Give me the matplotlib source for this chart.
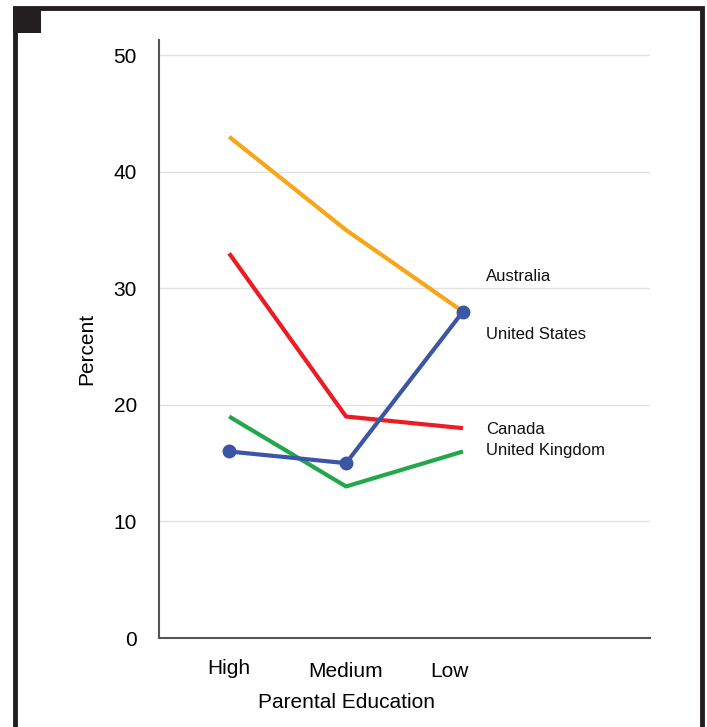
import matplotlib
matplotlib.use("Agg")
import matplotlib.pyplot as plt
import matplotlib.transforms as mtransforms
from matplotlib.patches import Rectangle

plt.rcParams['font.family'] = ['Liberation Sans', 'DejaVu Sans']

categories = ["High", "Medium", "Low"]
australia = [43, 35, 28]
canada = [33, 19, 18]
united_kingdom = [19, 13, 16]
united_states = [16, 15, 28]
yticks = [0, 10, 20, 30, 40, 50]

series = [
    ("Australia", australia, "#F9A51A", 31.0, False),
    ("Canada", canada, "#ED1C24", 17.9, False),
    ("United Kingdom", united_kingdom, "#22A84A", 16.1, False),
    ("United States", united_states, "#3A56A5", 26.0, True),
]

fig = plt.figure(figsize=(7.07, 7.27), dpi=100)
W, H = 707, 727
ax = fig.add_axes([159 / W, 1 - 638 / H, (650 - 159) / W, (638 - 40) / H])

x = list(range(len(categories)))
for name, vals, color, ylab, marker in series:
    ax.plot(x, vals, color=color, lw=3, solid_capstyle='butt',
            marker='o' if marker else None, markersize=9, zorder=3)
    ax.text(2.2, ylab, name, fontsize=12, va='center', ha='left', color='#111111')

ax.set_xlim(-0.6, 3.6)
ax.set_ylim(0, 51.3)
ax.set_yticks(yticks)
ax.set_yticklabels([str(v) for v in yticks], fontsize=15)
ax.set_xticks(x)
ax.set_xticklabels(categories, fontsize=15)
ax.tick_params(axis='both', length=0)
ax.tick_params(axis='x', pad=16.5)
ax.tick_params(axis='y', pad=16)
# small offsets of the category labels as in the reference
offsets = [(0, 2), (0, -1), (-14, -1)]
for lab, (dx, dy) in zip(ax.get_xticklabels(), offsets):
    lab.set_transform(lab.get_transform() +
                      mtransforms.ScaledTranslation(dx / 100, dy / 100, fig.dpi_scale_trans))
ax.yaxis.grid(True, color='#E2E2E2', lw=1)
ax.set_axisbelow(True)
for s in ['top', 'right']:
    ax.spines[s].set_visible(False)
for s in ['left', 'bottom']:
    ax.spines[s].set_color('#555555')
    ax.spines[s].set_linewidth(1.5)
ax.set_ylabel("Percent", fontsize=15)
ax.yaxis.set_label_coords(-(159 - 96) / 491, 0.483)
ax.set_xlabel("Parental Education", fontsize=15)
ax.xaxis.set_label_coords((1 + 0.6) / 4.2, -0.092)

# frame
fig.patches.append(Rectangle((15 / W, -0.05), (702 - 15) / W, (1 - 8 / H) + 0.05,
                             transform=fig.transFigure, fill=False,
                             edgecolor='#231F20', lw=3.5, zorder=10))
fig.patches.append(Rectangle((13 / W, 1 - 33 / H), (41 - 13) / W, (33 - 7) / H,
                             transform=fig.transFigure, facecolor='#231F20',
                             edgecolor='none', zorder=11))

fig.savefig("out.png", dpi=100)
